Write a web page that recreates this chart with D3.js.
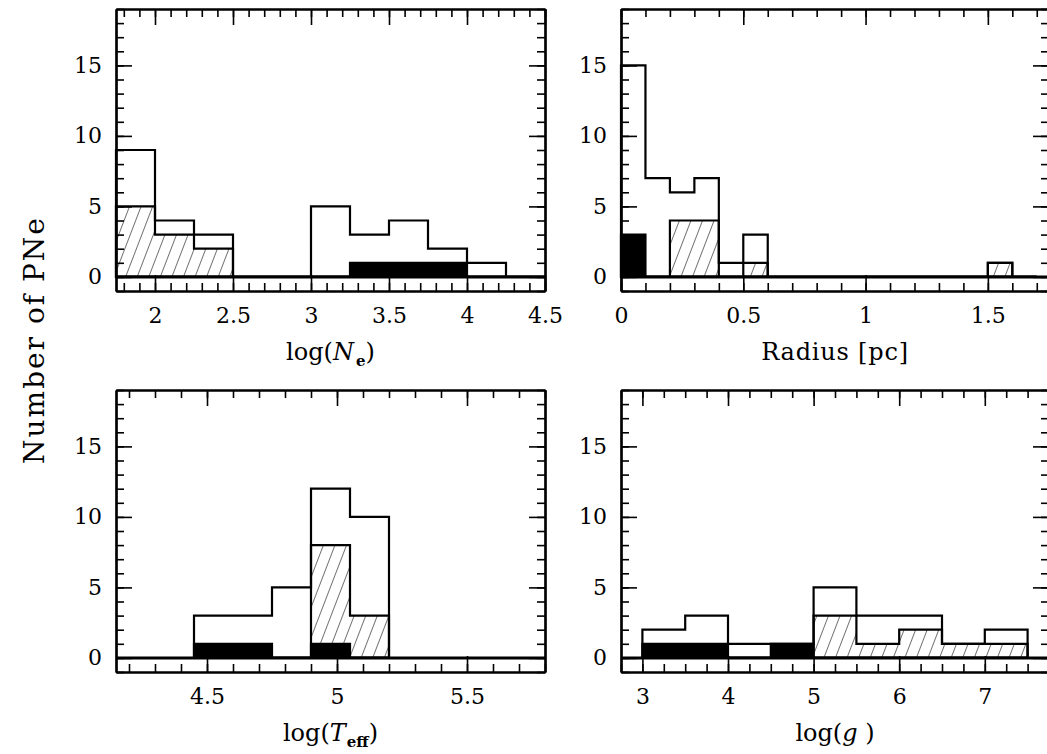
<!DOCTYPE html>
<html>
<head>
<meta charset="utf-8">
<script src="https://cdn.jsdelivr.net/npm/d3@7"></script>
<style>
  html, body { margin: 0; padding: 0; background: #fff; }
  svg { display: block; }
  text { font-family: "DejaVu Serif", "Liberation Serif", serif; fill: #000; }
</style>
</head>
<body>
<svg id="chart" width="1047" height="754"></svg>
<script>
// ---------- data ----------
// Panel 1: log(Ne)
const neEdges   = [1.75, 2, 2.25, 2.5, 2.75, 3, 3.25, 3.5, 3.75, 4, 4.25, 4.5];
const neTotal   = [9, 4, 3, 0, 0, 5, 3, 4, 2, 1, 0];
const neHatched = [5, 3, 2, 0, 0, 0, 0, 0, 0, 0, 0];
const neBlack   = [0, 0, 0, 0, 0, 0, 1, 1, 1, 0, 0];
const neTicks   = [2, 2.5, 3, 3.5, 4, 4.5];

// Panel 2: Radius [pc]
const radEdges   = [0, 0.1, 0.2, 0.3, 0.4, 0.5, 0.6, 0.7, 0.8, 0.9, 1.0, 1.1, 1.2, 1.3, 1.4, 1.5, 1.6, 1.7];
const radTotal   = [15, 7, 6, 7, 1, 3, 0, 0, 0, 0, 0, 0, 0, 0, 0, 1, 0];
const radHatched = [0, 0, 4, 4, 0, 1, 0, 0, 0, 0, 0, 0, 0, 0, 0, 1, 0];
const radBlack   = [3, 0, 0, 0, 0, 0, 0, 0, 0, 0, 0, 0, 0, 0, 0, 0, 0];
const radTicks   = [0, 0.5, 1, 1.5];

// Panel 3: log(Teff)
const teffEdges   = [4.45, 4.6, 4.75, 4.9, 5.05, 5.2];
const teffTotal   = [3, 3, 5, 12, 10];
const teffHatched = [0, 0, 0, 8, 3];
const teffBlack   = [1, 1, 0, 1, 0];
const teffTicks   = [4.5, 5, 5.5];

// Panel 4: log(g)
const loggEdges   = [3, 3.5, 4, 4.5, 5, 5.5, 6, 6.5, 7, 7.5];
const loggTotal   = [2, 3, 1, 1, 5, 3, 3, 1, 2];
const loggHatched = [0, 0, 0, 0, 3, 1, 2, 1, 1];
const loggBlack   = [1, 1, 0, 1, 0, 0, 0, 0, 0];
const loggTicks   = [3, 4, 5, 6, 7];

const yTicks = [0, 5, 10, 15];

// ---------- layout ----------
const svg = d3.select("#chart");
svg.append("rect").attr("width", 1047).attr("height", 754).attr("fill", "#fff");

const defs = svg.append("defs");
const pat = defs.append("pattern")
  .attr("id", "hatch")
  .attr("patternUnits", "userSpaceOnUse")
  .attr("width", 10.8).attr("height", 20)
  .attr("patternTransform", "rotate(21)");
pat.append("line").attr("x1", 0).attr("y1", -5).attr("x2", 0).attr("y2", 25)
  .attr("stroke", "#000").attr("stroke-width", 1.1);

const panels = [
  { x0: 116, x1: 545, y0: 9,   y1: 291, dom: [1.75, 4.5], minorStep: 0.1,  edges: neEdges,   total: neTotal,   hatched: neHatched,   black: neBlack,   ticks: neTicks,   label: "ne" },
  { x0: 621, x1: 1049, y0: 9,  y1: 291, dom: [0, 1.75],   minorStep: 0.1,  edges: radEdges,  total: radTotal,  hatched: radHatched,  black: radBlack,  ticks: radTicks,  label: "rad" },
  { x0: 116, x1: 545, y0: 390, y1: 672, dom: [4.15, 5.8], minorStep: 0.1,  edges: teffEdges, total: teffTotal, hatched: teffHatched, black: teffBlack, ticks: teffTicks, label: "teff" },
  { x0: 621, x1: 1049, y0: 390, y1: 672, dom: [2.75, 7.75], minorStep: 0.25, edges: loggEdges, total: loggTotal, hatched: loggHatched, black: loggBlack, ticks: loggTicks, label: "logg" }
];

function stepPath(x, y, edges, vals) {
  let p = `M${x(edges[0])},${y(0)}`;
  for (let i = 0; i < vals.length; i++) {
    p += `L${x(edges[i])},${y(vals[i])}L${x(edges[i + 1])},${y(vals[i])}`;
  }
  p += `L${x(edges[edges.length - 1])},${y(0)}Z`;
  return p;
}

panels.forEach(P => {
  const x = d3.scaleLinear().domain(P.dom).range([P.x0, P.x1]);
  const y = d3.scaleLinear().domain([-1, 19]).range([P.y1, P.y0]);
  const g = svg.append("g");

  // minor tick positions (axis decoration)
  const minor = [];
  const start = Math.ceil(P.dom[0] / P.minorStep - 1e-6);
  const end = Math.floor(P.dom[1] / P.minorStep + 1e-6);
  for (let k = start; k <= end; k++) minor.push(+(k * P.minorStep).toFixed(4));
  const yMinor = d3.range(-1, 20);

  // histogram: total outline
  g.append("path").attr("d", stepPath(x, y, P.edges, P.total))
    .attr("fill", "none").attr("stroke", "#000").attr("stroke-width", 2.2).attr("stroke-linejoin", "miter");
  // hatched
  g.append("path").attr("d", stepPath(x, y, P.edges, P.hatched))
    .attr("fill", "url(#hatch)").attr("stroke", "#000").attr("stroke-width", 2.2);
  // black
  g.append("path").attr("d", stepPath(x, y, P.edges, P.black))
    .attr("fill", "#000").attr("stroke", "#000").attr("stroke-width", 2.2);
  // zero baseline across panel
  g.append("line").attr("x1", x(P.dom[0])).attr("x2", x(P.dom[1]))
    .attr("y1", y(0)).attr("y2", y(0)).attr("stroke", "#000").attr("stroke-width", 3);

  const fmt = d => String(d);

  function styleAxis(sel) {
    sel.select(".domain").attr("stroke", "#000").attr("stroke-width", 2.2);
    sel.selectAll(".tick line").attr("stroke", "#000").attr("stroke-width", 1.6);
    sel.selectAll("text").attr("font-family", "DejaVu Serif, serif").attr("font-size", 22).attr("fill", "#000");
  }

  // bottom axis
  g.append("g").attr("transform", `translate(0,${P.y1})`)
    .call(d3.axisBottom(x).tickValues(minor).tickSize(-8).tickSizeOuter(0).tickFormat(""))
    .call(styleAxis);
  g.append("g").attr("transform", `translate(0,${P.y1})`)
    .call(d3.axisBottom(x).tickValues(P.ticks).tickSize(-16).tickSizeOuter(0).tickPadding(16).tickFormat(fmt))
    .call(styleAxis);
  // top axis
  g.append("g").attr("transform", `translate(0,${P.y0})`)
    .call(d3.axisTop(x).tickValues(minor).tickSize(-8).tickSizeOuter(0).tickFormat(""))
    .call(styleAxis);
  g.append("g").attr("transform", `translate(0,${P.y0})`)
    .call(d3.axisTop(x).tickValues(P.ticks).tickSize(-16).tickSizeOuter(0).tickFormat(""))
    .call(styleAxis);
  // left axis
  g.append("g").attr("transform", `translate(${P.x0},0)`)
    .call(d3.axisLeft(y).tickValues(yMinor).tickSize(-8).tickSizeOuter(0).tickFormat(""))
    .call(styleAxis);
  g.append("g").attr("transform", `translate(${P.x0},0)`)
    .call(d3.axisLeft(y).tickValues(yTicks).tickSize(-16).tickSizeOuter(0).tickPadding(14).tickFormat(fmt))
    .call(styleAxis);
  // right axis
  g.append("g").attr("transform", `translate(${P.x1},0)`)
    .call(d3.axisRight(y).tickValues(yMinor).tickSize(-8).tickSizeOuter(0).tickFormat(""))
    .call(styleAxis);
  g.append("g").attr("transform", `translate(${P.x1},0)`)
    .call(d3.axisRight(y).tickValues(yTicks).tickSize(-16).tickSizeOuter(0).tickFormat(""))
    .call(styleAxis);

  // x label
  const cx = (P.x0 + P.x1) / 2;
  const t = svg.append("text").attr("x", cx).attr("y", P.y1 + 69)
    .attr("text-anchor", "middle").attr("font-size", 24);
  if (P.label === "ne") {
    t.append("tspan").text("log(");
    t.append("tspan").attr("font-style", "italic").text("N");
    t.append("tspan").attr("font-size", 15).attr("font-weight", "bold").attr("dy", 6).attr("dx", 2).text("e");
    t.append("tspan").attr("dy", -6).text(")");
  } else if (P.label === "rad") {
    t.attr("letter-spacing", 0.8).text("Radius [pc]");
  } else if (P.label === "teff") {
    t.append("tspan").text("log(");
    t.append("tspan").attr("font-style", "italic").text("T");
    t.append("tspan").attr("font-size", 15).attr("font-weight", "bold").attr("dy", 6).attr("dx", 1).text("eff");
    t.append("tspan").attr("dy", -6).text(")");
  } else {
    t.append("tspan").text("log(");
    t.append("tspan").attr("font-style", "italic").text("g");
    t.append("tspan").text(" )");
  }
});

// y label
svg.append("text")
  .attr("transform", "translate(44,340) rotate(-90)")
  .attr("text-anchor", "middle")
  .attr("font-size", 28)
  .attr("letter-spacing", 2)
  .text("Number of PNe");
</script>
</body>
</html>
